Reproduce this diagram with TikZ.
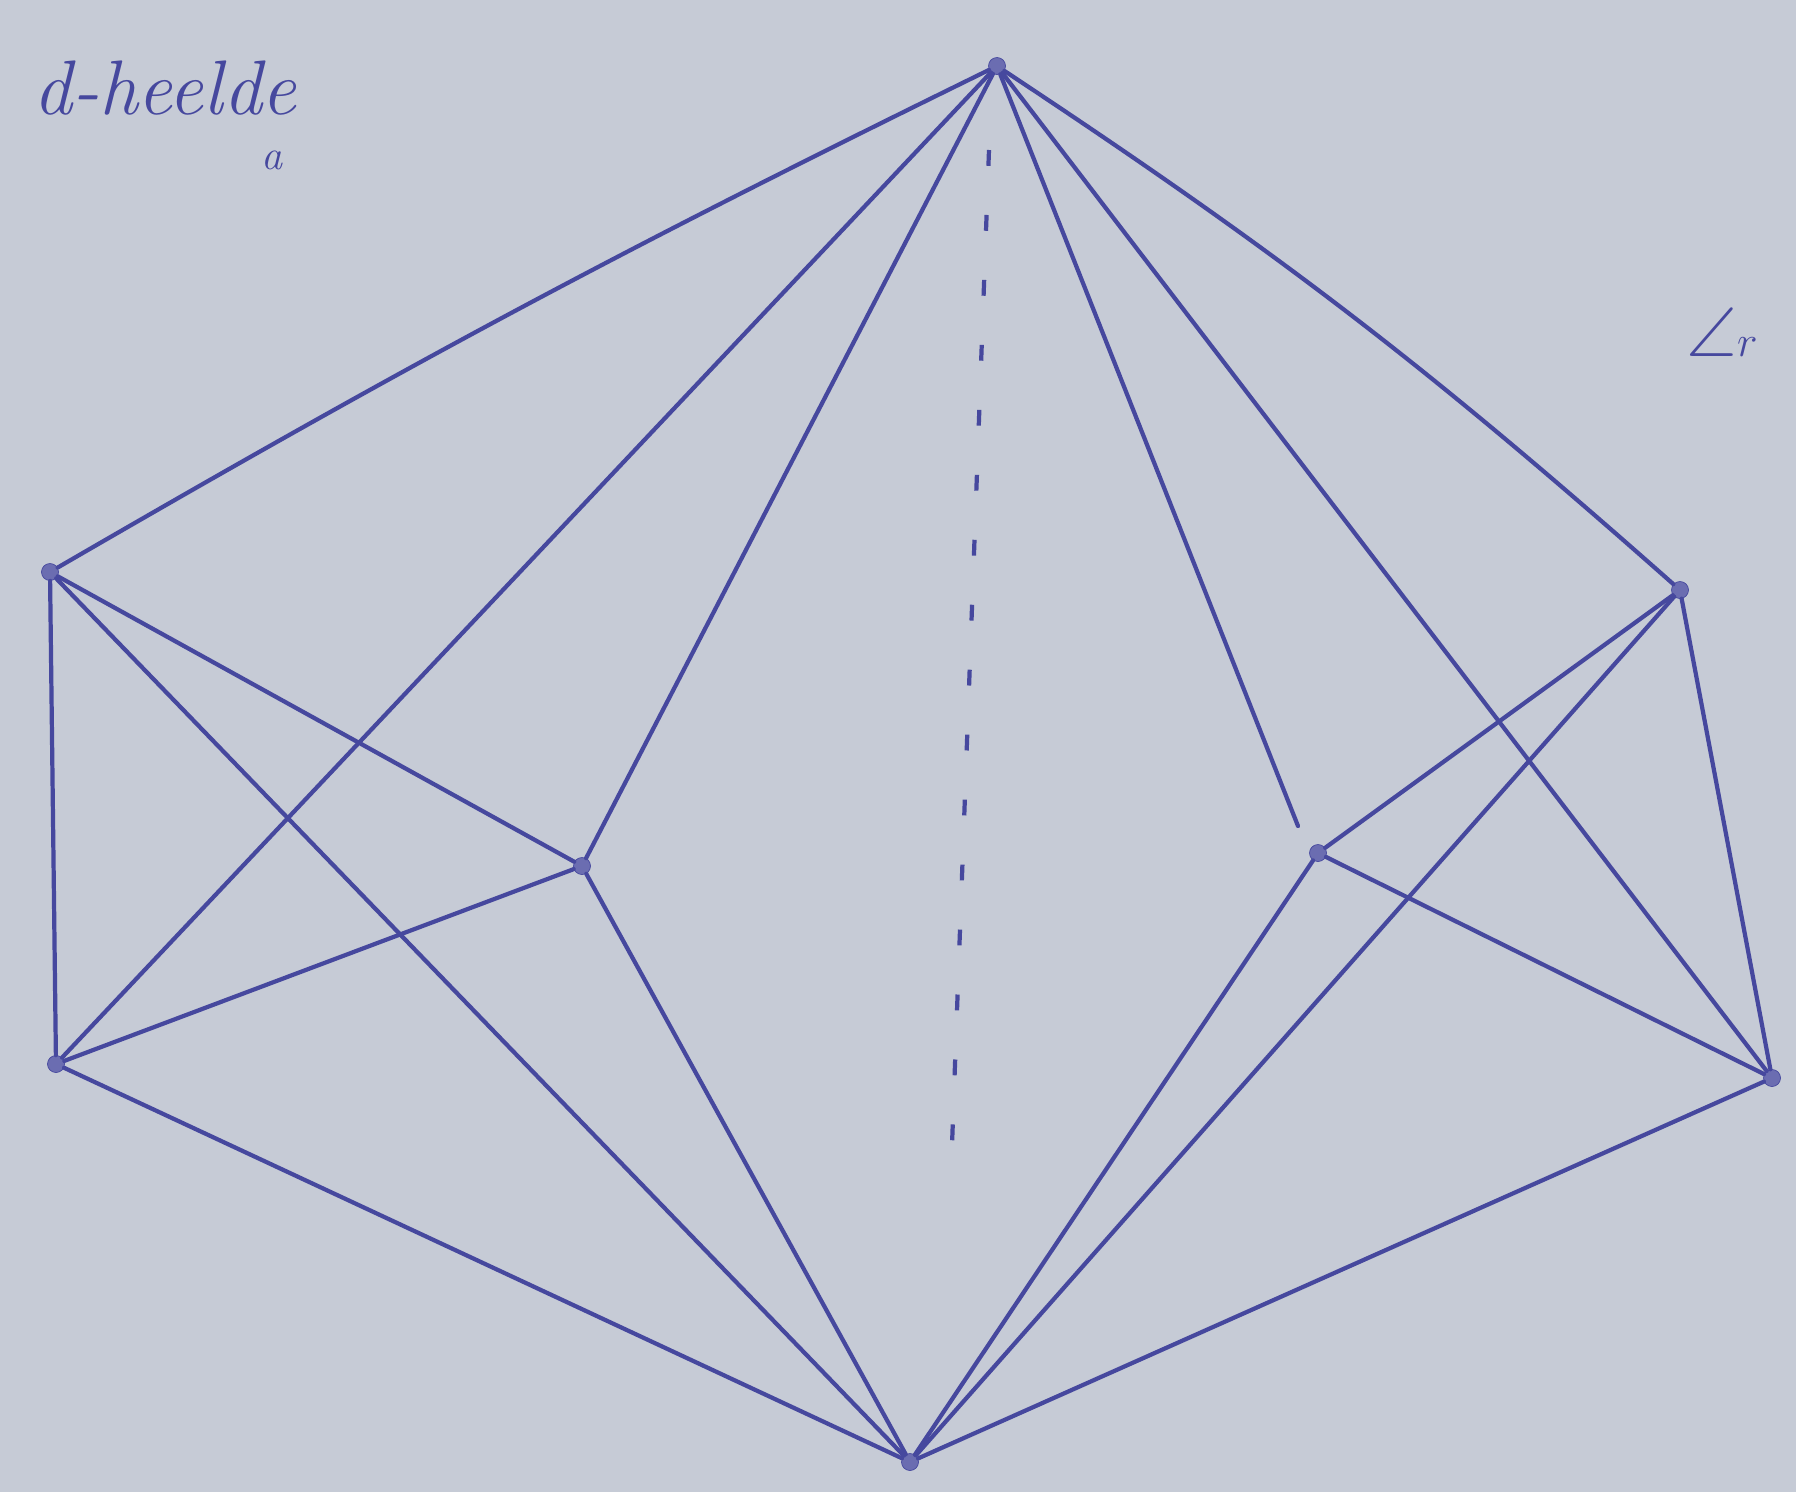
\documentclass[tikz,border=0pt]{standalone}
\usepackage{amsmath,amssymb}
\usetikzlibrary{positioning}
\definecolor{paper}{RGB}{198,203,214}
\definecolor{ink}{RGB}{70,72,158}

\begin{document}
\begin{tikzpicture}[
    x=0.02cm, y=-0.02cm,
    vtx/.style={circle, draw=ink, fill=ink!80, minimum size=0.34cm, inner sep=0pt},
    edge/.style={draw=ink, line width=2.4pt, line cap=round},
    hidden/.style={draw=ink, line width=2.4pt, dash pattern=on 9pt off 28pt},
    scrawl/.style={text=ink, font=\itshape\fontsize{44}{50}\selectfont, inner sep=0pt}
]
\fill[paper] (0,0) rectangle (1796,1492);
\useasboundingbox (0,0) rectangle (1796,1492);

\node[vtx] (top) at (997,66) {};
\node[vtx] (lu) at (50,572) {};
\node[vtx] (ll) at (56,1064) {};
\node[vtx] (ml) at (582,866) {};
\node[vtx] (mr) at (1318,853) {};
\node[vtx] (ru) at (1680,590) {};
\node[vtx] (rl) at (1772,1078) {};
\node[vtx] (bot) at (910,1462) {};
\coordinate (gap) at (1298,826);
\coordinate (dtop) at (989,150);
\coordinate (dbot) at (952,1145);

\node[scrawl] (title) at (165,88) {d-heelde};
\node[scrawl, font=\itshape\fontsize{24}{28}\selectfont] (mark) at (272,160) {a};
\node[scrawl, font=\fontsize{40}{46}\selectfont] (ang) at (1722,332) {$\angle r$};

\draw[edge] (top) to[bend right=2] (lu);
\draw[edge] (top) -- (ll);
\draw[edge] (top) -- (ml);
\draw[edge] (top) -- (gap);
\draw[edge] (top) -- (rl);
\draw[edge] (top) to[bend left=4] (ru);
\draw[hidden] (dtop) -- (dbot);
\draw[edge] (lu) -- (ll);
\draw[edge] (lu) -- (ml);
\draw[edge] (lu) -- (bot);
\draw[edge] (ll) -- (ml);
\draw[edge] (ll) -- (bot);
\draw[edge] (ml) -- (bot);
\draw[edge] (mr) -- (ru);
\draw[edge] (mr) -- (rl);
\draw[edge] (mr) -- (bot);
\draw[edge] (ru) -- (rl);
\draw[edge] (ru) -- (bot);
\draw[edge] (rl) -- (bot);
\end{tikzpicture}
\end{document}
